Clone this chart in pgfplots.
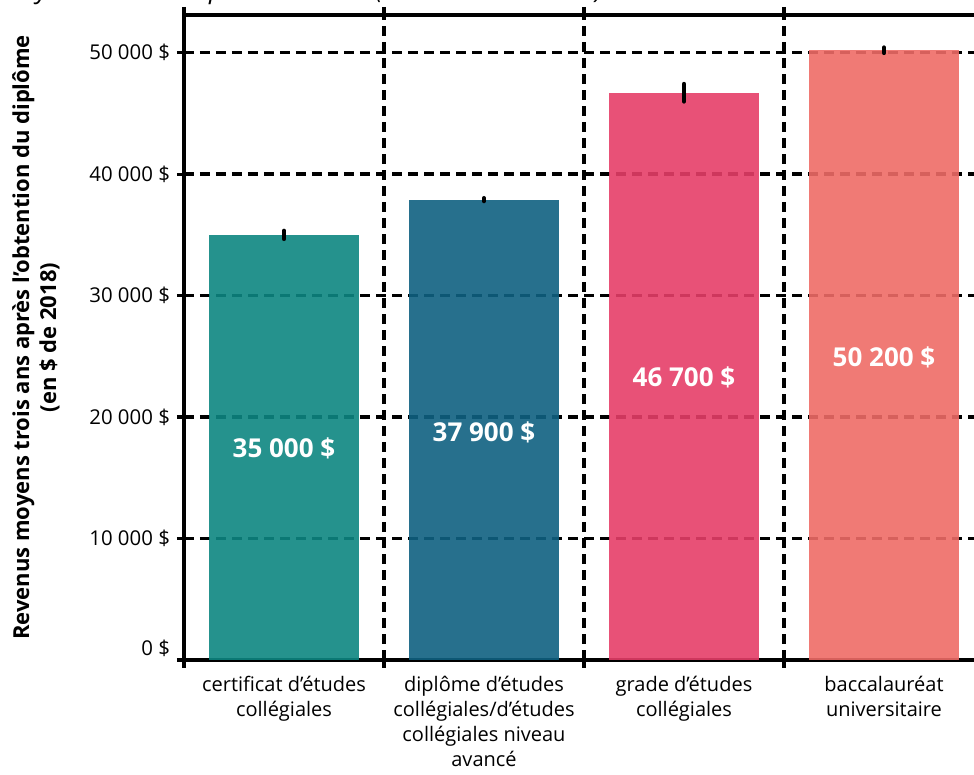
\documentclass[border=0pt]{standalone}
\usepackage{pgfplots}
\pgfplotsset{compat=1.18}
\usepackage{fontspec}
\setmainfont{Open Sans}
\definecolor{cA}{RGB}{13,134,129}
\definecolor{cB}{RGB}{15,97,129}
\definecolor{cC}{RGB}{229,62,104}
\definecolor{cD}{RGB}{238,107,102}
\begin{document}
\begin{tikzpicture}
\begin{axis}[
  at={(0,0)}, anchor=south west,
  scale only axis,
  width=400pt, height=322.5pt,
  xmin=-0.5, xmax=3.5,
  ymin=0, ymax=53100,
  axis line style={line width=1.6pt},
  xtick={0,1,2,3},
  xticklabels={{certificat d’études\\collégiales},{diplôme d’études\\collégiales/d’études\\collégiales niveau\\avancé},{grade d’études\\collégiales},{baccalauréat\\universitaire}},
  xticklabel style={align=center, font=\fontsize{10}{12.5}\selectfont, yshift=-1pt},
  major x tick style={draw=none},
  minor xtick={-0.5,0.5,1.5,2.5},
  xminorgrids=true,
  minor x tick style={line width=1.6pt, black},
  minor tick length=4pt,
  ytick={0,10000,20000,30000,40000,50000},
  yticklabels={\raisebox{12pt}{0 \$},10 000 \$,20 000 \$,30 000 \$,40 000 \$,50 000 \$},
  yticklabel style={font=\fontsize{10.2}{12}\selectfont},
  major y tick style={line width=1.6pt, black},
  major tick length=3.5pt,
  tick align=outside,
  ymajorgrids=true,
  grid style={black, line width=1.7pt, dash pattern=on 5pt off 3pt},
  minor grid style={black, line width=1.7pt, dash pattern=on 5pt off 3pt},
  /pgf/number format/assume math mode=true,
  ylabel={Revenus moyens trois ans après l’obtention du diplôme\\(en \$ de 2018)},
  ylabel style={align=center, font=\bfseries\fontsize{11}{13.5}\selectfont},
  ylabel shift=8pt,
  every axis plot/.append style={ybar, bar width=0.75, bar shift=0pt, draw=none, fill opacity=0.9,
    /pgfplots/error bars/y dir=both, /pgfplots/error bars/y explicit, /pgfplots/error bars/error mark=none,
    /pgfplots/error bars/error bar style={line width=2.2pt, line cap=round, black, opacity=1}},
]
\addplot[fill=cA] coordinates {(0,35000) +- (0,330)};
\addplot[fill=cB] coordinates {(1,37900) +- (0,120)};
\addplot[fill=cC] coordinates {(2,46700) +- (0,720)};
\addplot[fill=cD] coordinates {(3,50200) +- (0,220)};
\node[text=white, font=\bfseries\fontsize{13}{15}\selectfont] at (axis cs:0,17400) {35 000 \$};
\node[text=white, font=\bfseries\fontsize{13}{15}\selectfont] at (axis cs:1,18700) {37 900 \$};
\node[text=white, font=\bfseries\fontsize{13}{15}\selectfont] at (axis cs:2,23250) {46 700 \$};
\node[text=white, font=\bfseries\fontsize{13}{15}\selectfont] at (axis cs:3,24900) {50 200 \$};
\end{axis}
\node[anchor=base east, font=\itshape\fontsize{13}{15}\selectfont] at (213pt,330.5pt) {Revenus moyens selon le diplôme obtenu (en dollars de 2018)};
\pgfresetboundingbox
\path[use as bounding box] (-92pt,-57.5pt) rectangle (395pt,330pt);
\end{tikzpicture}
\end{document}
